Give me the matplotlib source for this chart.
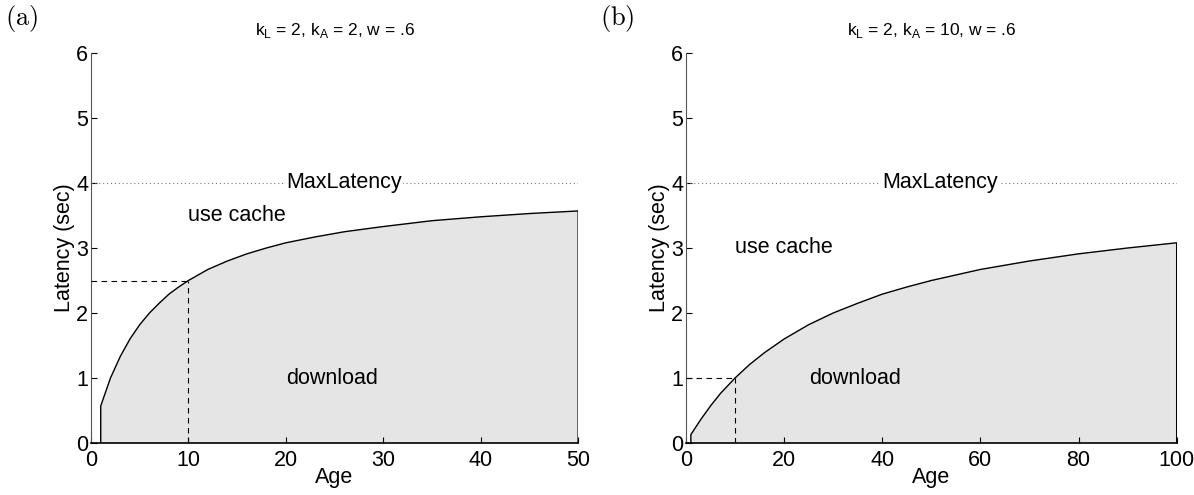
import matplotlib
matplotlib.use("Agg")
import matplotlib.pyplot as plt

plt.rcParams['font.family'] = ['Liberation Sans', 'DejaVu Sans']
plt.rcParams['mathtext.fontset'] = 'custom'
plt.rcParams['mathtext.rm'] = 'Liberation Sans'

# Panel (a): k_L=2, k_A=2, w=.6
age_a = [1, 2, 3, 4, 5, 6, 7, 8, 9, 10, 12, 14, 16, 18, 20, 23, 26, 30, 35, 40, 45, 50]
lat_a = [0.57, 1.00, 1.33, 1.60, 1.82, 2.00, 2.15, 2.29, 2.40, 2.50, 2.67, 2.80, 2.91,
         3.00, 3.08, 3.17, 3.25, 3.33, 3.42, 3.48, 3.53, 3.57]
# Panel (b): k_L=2, k_A=10, w=.6
age_b = [1, 3, 5, 7, 10, 13, 16, 20, 25, 30, 35, 40, 45, 50, 60, 70, 80, 90, 100]
lat_b = [0.13, 0.36, 0.57, 0.76, 1.00, 1.21, 1.39, 1.60, 1.82, 2.00, 2.15, 2.29, 2.40,
         2.50, 2.67, 2.80, 2.91, 3.00, 3.08]

max_latency = 4
titles = [r'k$_\mathregular{L}$ = 2, k$_\mathregular{A}$ = 2, w = .6',
          r'k$_\mathregular{L}$ = 2, k$_\mathregular{A}$ = 10, w = .6']
panel_labels = [r'$\mathrm{(a)}$', r'$\mathrm{(b)}$']
xlims = [50, 100]
xticks = [[0, 10, 20, 30, 40, 50], [0, 20, 40, 60, 80, 100]]
ref_age = 10
ref_lat = [2.5, 1.0]
maxlat_x = [20, 40]
cache_pos = [(10, 3.5), (10, 3.0)]
download_pos = [(20, 1.0), (25, 1.0)]

FS = 15.5
fig = plt.figure(figsize=(11.94, 4.95), dpi=100)
rects = [[0.0762, 0.105, 0.408, 0.788], [0.5745, 0.105, 0.411, 0.788]]
data = [(age_a, lat_a), (age_b, lat_b)]

for i in range(2):
    ax = fig.add_axes(rects[i])
    ages, lats = data[i]
    xs = [ages[0]] + ages + [ages[-1]]
    ys = [0] + lats + [0]
    ax.fill(xs, ys, facecolor='#e5e5e5', edgecolor='none', zorder=1)
    ax.plot(xs, ys, color='black', lw=1.0, zorder=3)
    ax.plot([0, xlims[i]], [max_latency, max_latency], color='#777777', lw=0.8,
            linestyle=(0, (1, 2.5)), zorder=2)
    ax.plot([0, ref_age], [ref_lat[i], ref_lat[i]], color='black', lw=0.8,
            linestyle=(0, (5, 4)), zorder=4)
    ax.plot([ref_age, ref_age], [0, ref_lat[i]], color='black', lw=0.8,
            linestyle=(0, (5, 4)), zorder=4)
    ax.text(maxlat_x[i], max_latency, 'MaxLatency', fontsize=FS, ha='left', va='center',
            bbox=dict(facecolor='white', edgecolor='none', pad=1), zorder=5)
    ax.text(cache_pos[i][0], cache_pos[i][1], 'use cache', fontsize=FS, ha='left', va='center')
    ax.text(download_pos[i][0], download_pos[i][1], 'download', fontsize=FS, ha='left', va='center')

    ax.set_xlim(0, xlims[i])
    ax.set_ylim(0, 6)
    ax.set_xticks(xticks[i])
    ax.set_yticks(range(0, 7))
    ax.tick_params(direction='in', length=4, labelsize=FS)
    ax.tick_params(axis='x', pad=5)
    ax.tick_params(axis='y', pad=2)
    for s in ['top', 'right']:
        ax.spines[s].set_visible(False)
    ax.spines['left'].set_color('#555555')
    ax.spines['bottom'].set_linewidth(1.2)
    ax.set_xlabel('Age', fontsize=FS, labelpad=-3)
    ax.set_ylabel('Latency (sec)', fontsize=FS, labelpad=1)
    ax.set_title(titles[i], fontsize=12.5, pad=13)
    fig.text(rects[i][0] - 0.072, 0.963, panel_labels[i], fontsize=19, ha='left', va='center',
             math_fontfamily='cm')

fig.savefig('out.png', dpi=100)
